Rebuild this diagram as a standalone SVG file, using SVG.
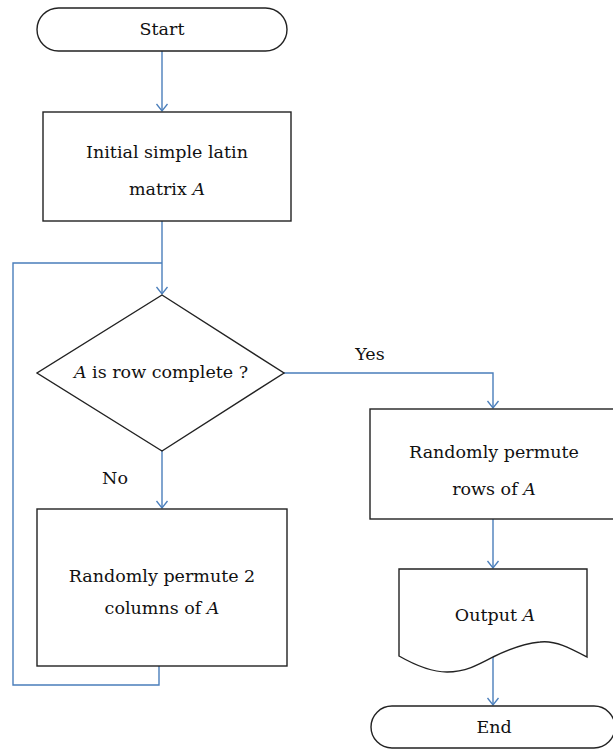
<svg xmlns="http://www.w3.org/2000/svg" width="613" height="750" viewBox="0 0 613 750">
<defs>
<marker id="arr" markerWidth="12" markerHeight="14" refX="9" refY="7" orient="auto" markerUnits="userSpaceOnUse" viewBox="0 0 12 14">
<path d="M2,1.5 L9,7 L2,12.5" fill="none" stroke="#4a7ebb" stroke-width="1.3"/>
</marker>
</defs>
<style>
.shape{fill:#fff;stroke:#222;stroke-width:1.4}
.conn{fill:none;stroke:#4a7ebb;stroke-width:1.4}
text{font-family:"DejaVu Serif","Liberation Serif",serif;font-size:17.5px;fill:#111;text-anchor:middle}
.it{font-style:italic}
</style>
<rect width="613" height="750" fill="#fff"/>
<g id="connectors">
<path class="conn" d="M162,51 V111" marker-end="url(#arr)"/>
<path class="conn" d="M162,221 V294" marker-end="url(#arr)"/>
<path class="conn" d="M159,666 V685 H13 V263 H162"/>
<path class="conn" d="M162,451 V508" marker-end="url(#arr)"/>
<path class="conn" d="M284,373 H493 V408" marker-end="url(#arr)"/>
<path class="conn" d="M493,519 V568" marker-end="url(#arr)"/>
<path class="conn" d="M493,657 V705" marker-end="url(#arr)"/>
<text x="370" y="360">Yes</text>
<text x="115" y="484">No</text>
</g>
<g id="start">
<rect class="shape" x="37" y="8" width="250" height="43" rx="21.5"/>
<text x="162" y="35">Start</text>
</g>
<g id="init">
<rect class="shape" x="43" y="112" width="248" height="109"/>
<text x="167" y="158">Initial simple latin</text>
<text x="167" y="195">matrix <tspan class="it">A</tspan></text>
</g>
<g id="decision">
<polygon class="shape" points="162,295 284,373 162,451 37,373"/>
<text x="161" y="378"><tspan class="it">A</tspan> is row complete ?</text>
</g>
<g id="permcols">
<rect class="shape" x="37" y="509" width="250" height="157"/>
<text x="162" y="582">Randomly permute 2</text>
<text x="162" y="614">columns of <tspan class="it">A</tspan></text>
</g>
<g id="permrows">
<rect class="shape" x="370" y="409" width="247" height="110"/>
<text x="494" y="458">Randomly permute</text>
<text x="494" y="495">rows of <tspan class="it">A</tspan></text>
</g>
<g id="output">
<path class="shape" d="M399,569 H587 V657 C570,648 555,640 540,642 C520,644 505,651 493,657 C478,665 465,672 447,672 C430,672 413,664 399,656 Z"/>
<text x="495" y="621">Output <tspan class="it">A</tspan></text>
</g>
<g id="end">
<rect class="shape" x="371" y="706" width="244" height="42" rx="21"/>
<text x="494" y="733">End</text>
</g>
</svg>
